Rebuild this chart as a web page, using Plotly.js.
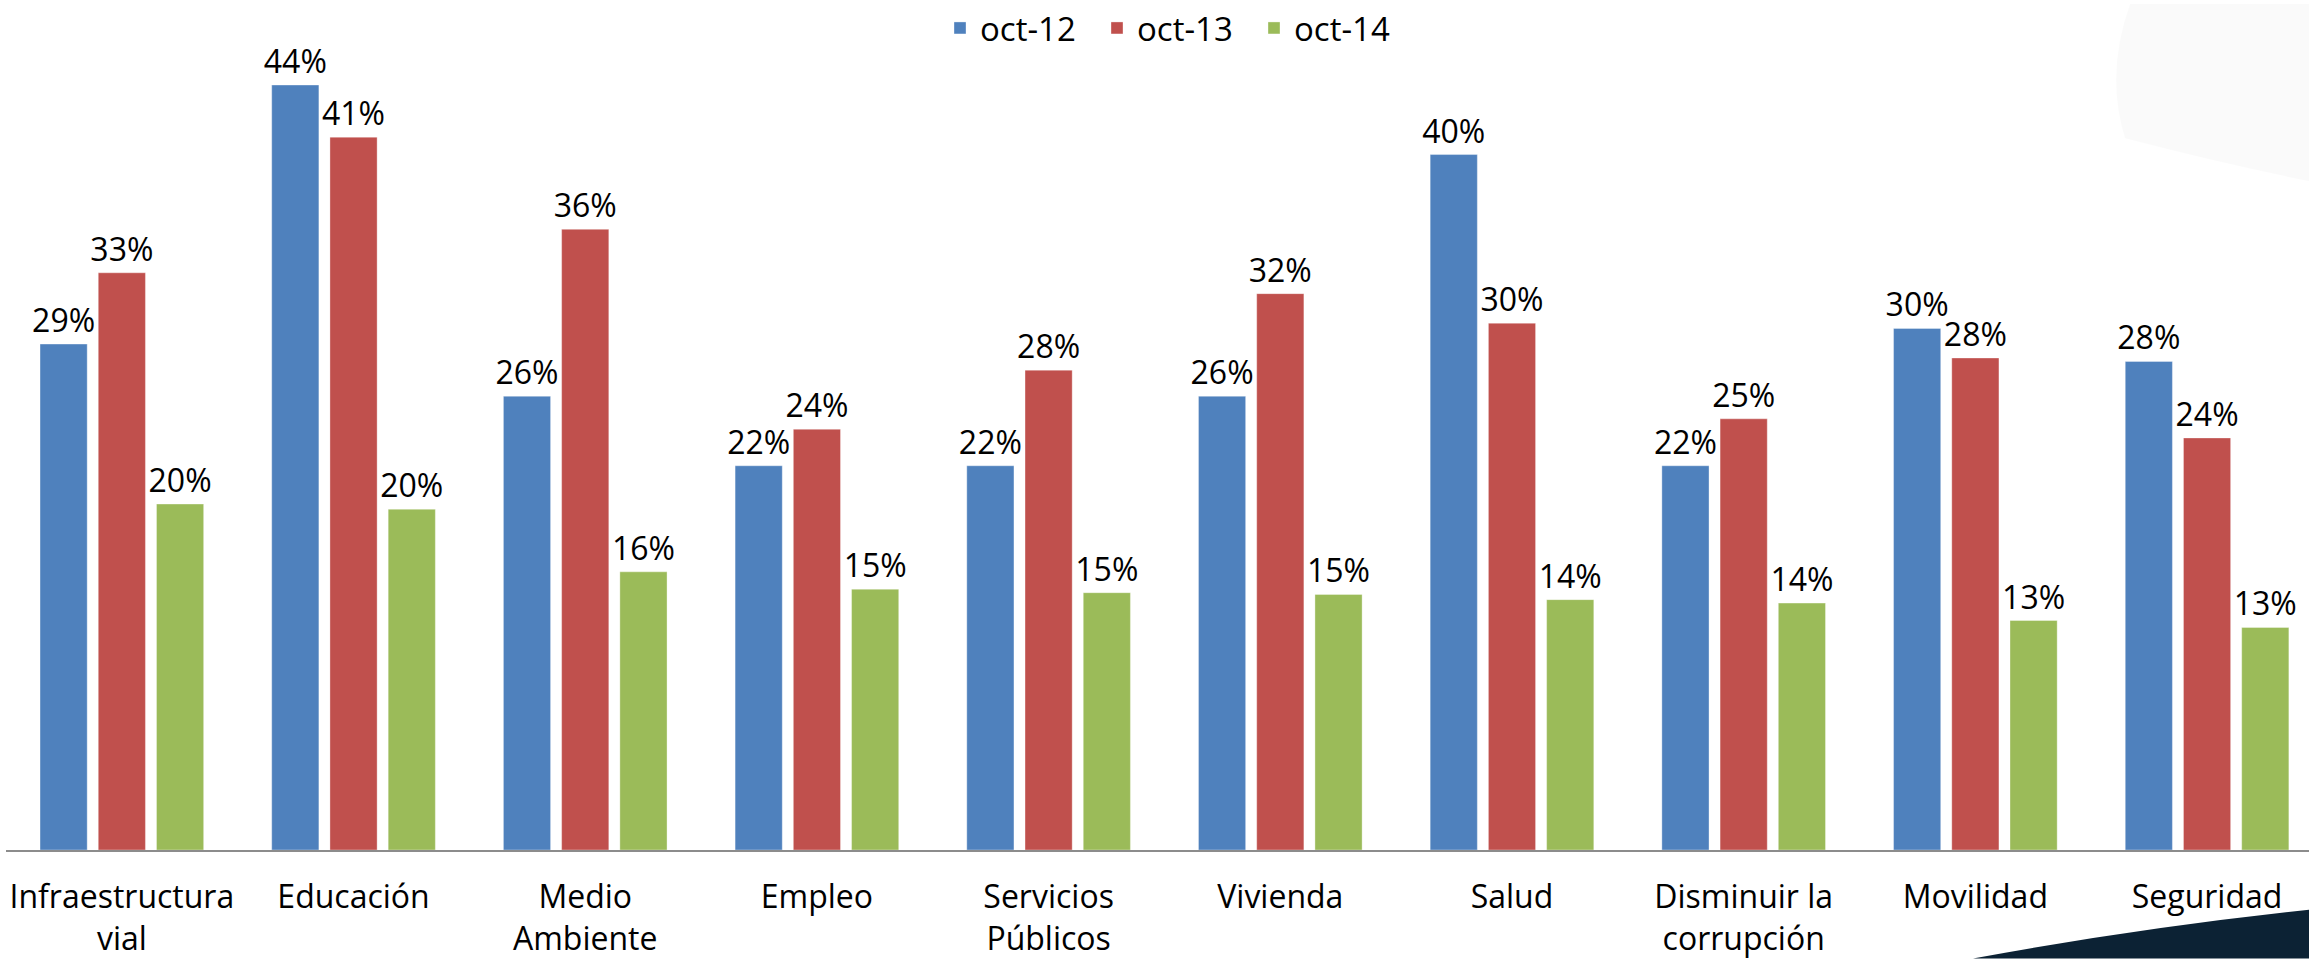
<!DOCTYPE html>
<html>
<head>
<meta charset="utf-8">
<script src="https://cdn.plot.ly/plotly-3.0.1.min.js"></script>
<style>
  html, body { margin: 0; padding: 0; background: #fff; }
  #chart { width: 2309px; height: 959px; }
</style>
</head>
<body>
<div id="chart"></div>
<script>
const categories = [
  'Infraestructura<br>vial', 'Educación', 'Medio<br>Ambiente', 'Empleo',
  'Servicios<br>Públicos', 'Vivienda', 'Salud', 'Disminuir la<br>corrupción',
  'Movilidad', 'Seguridad',
];
const seriesNames = ['oct-12', 'oct-13', 'oct-14'];
const oct12 = [29.1, 44.0, 26.1, 22.1, 22.1, 26.1, 40.0, 22.1, 30.0, 28.1];
const oct13 = [33.2, 41.0, 35.7, 24.2, 27.6, 32.0, 30.3, 24.8, 28.3, 23.7];
const oct14 = [19.9, 19.6, 16.0, 15.0, 14.8, 14.7, 14.4, 14.2, 13.2, 12.8];
const seriesColors = ['#4F81BD', '#C0504D', '#9BBB59'];

const FONT = '"Open Sans", "Noto Sans", sans-serif';
const W = 2309;
const H = 959;
const M = { l: 6, r: 0, t: 0, b: 109 };
const plotW = W - M.l - M.r;
const plotH = H - M.t - M.b;

// pixel -> paper helpers for the slide decorations
const px = (x) => (x - M.l) / plotW;
const py = (y) => 1 - (y - M.t) / plotH;

const traces = [oct12, oct13, oct14].map((vals, i) => ({
  type: 'bar',
  name: seriesNames[i],
  x: categories,
  y: vals,
  marker: {
    color: seriesColors[i],
    line: { color: 'rgba(255,255,255,0.35)', width: 1 },
  },
  texttemplate: '%{y:.0f}%',
  textposition: 'outside',
  constraintext: 'none',
  cliponaxis: false,
  textfont: { family: FONT, size: 32, color: '#000' },
  hovertemplate: '%{x}: %{y:.0f}%<extra>' + seriesNames[i] + '</extra>',
}));

const layout = {
  width: W,
  height: H,
  margin: M,
  barmode: 'group',
  bargap: 0.246,
  bargroupgap: 0.19,
  paper_bgcolor: '#fff',
  plot_bgcolor: 'rgba(0,0,0,0)',
  font: { family: FONT, color: '#000' },
  showlegend: true,
  legend: {
    orientation: 'h',
    x: px(940),
    xanchor: 'left',
    y: py(24),
    yanchor: 'middle',
    font: { family: FONT, size: 33, color: '#000' },
    entrywidth: 112,
    bgcolor: 'rgba(0,0,0,0)',
  },
  xaxis: {
    type: 'category',
    range: [-0.5, 9.44],
    showline: true,
    linecolor: '#8c8c8c',
    linewidth: 2,
    showgrid: false,
    zeroline: false,
    ticks: '',
    ticklabelstandoff: 18,
    tickfont: { family: FONT, size: 32, color: '#000' },
  },
  yaxis: {
    range: [0, 48.66],
    visible: false,
    showgrid: false,
    zeroline: false,
  },
  shapes: [
    {
      type: 'path',
      xref: 'paper',
      yref: 'paper',
      layer: 'below',
      path: `M ${px(2130)} ${py(0)} Q ${px(2105)} ${py(70)} ${px(2125)} ${py(135)} Q ${px(2220)} ${py(160)} ${px(2309)} ${py(178)} L ${px(2309)} ${py(0)} Z`,
      fillcolor: 'rgba(0,0,0,0.018)',
      line: { width: 0 },
    },
    {
      type: 'path',
      xref: 'paper',
      yref: 'paper',
      layer: 'above',
      path: `M ${px(1973)} ${py(959)} Q ${px(2140)} ${py(928)} ${px(2309)} ${py(910)} L ${px(2309)} ${py(959)} Z`,
      fillcolor: '#0c2234',
      line: { width: 0 },
    },
  ],
};

Plotly.newPlot('chart', traces, layout, { displayModeBar: false, staticPlot: true });
</script>
</body>
</html>
